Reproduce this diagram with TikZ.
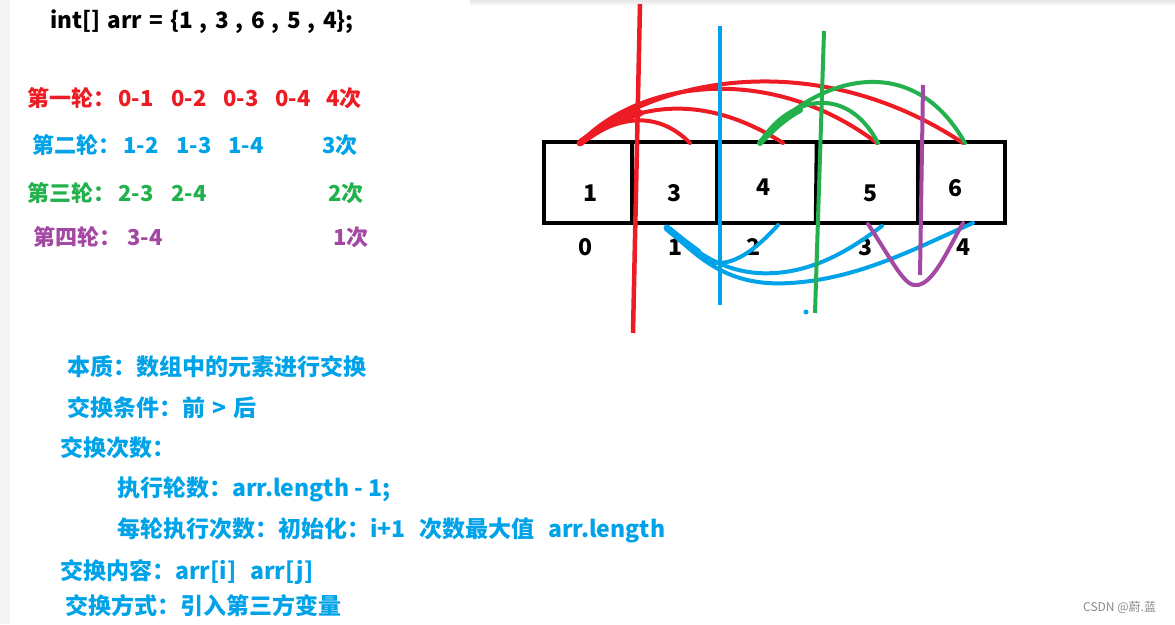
\documentclass[tikz,border=0pt]{standalone}
\usepackage{fontspec}
\setmainfont{Noto Sans CJK SC}
\definecolor{pred}{HTML}{ED1C24}
\definecolor{pblue}{HTML}{00A2E8}
\definecolor{pgreen}{HTML}{22B14C}
\definecolor{ppurple}{HTML}{A349A4}
\definecolor{wmgray}{HTML}{8A8A8A}
\definecolor{stripgray}{HTML}{F5F5F5}
\begin{document}
\begin{tikzpicture}[x=1pt,y=-1pt,
  txt/.style={anchor=base west,inner sep=0pt,font=\fontsize{22}{26}\selectfont\bfseries},
  note/.style={anchor=base west,inner sep=0pt,text=pblue,font=\fontsize{23}{27}\selectfont\bfseries},
  num/.style={anchor=center,inner sep=0pt,font=\fontsize{23}{27}\selectfont\bfseries},
  stroke/.style={line width=4pt,line cap=round,line join=round},
  thick stroke/.style={line width=7pt,line cap=round},
  boxline/.style={line width=4.5pt,black}]
\useasboundingbox (0,0) rectangle (1175,624);
\fill[white] (0,0) rectangle (1175,624);
\fill[stripgray] (0,0) rectangle (10,624);
\shade[top color=black!10,bottom color=white] (470,0) rectangle (1175,6);

% title
\node[txt,font=\fontsize{22.5}{26}\selectfont\bfseries] (title) at (50,28) {int[]\hspace{0.32em}arr\hspace{0.32em}=\hspace{0.32em}\{1\hspace{0.32em},\hspace{0.32em}3\hspace{0.32em},\hspace{0.32em}6\hspace{0.32em},\hspace{0.32em}5\hspace{0.32em},\hspace{0.32em}4\};};

% rounds
\begin{scope}[every node/.append style={text=pred}]
\node[txt] (r1) at (27,106) {第一轮：};
\node[txt] (r1a) at (118,106) {0-1};
\node[txt] (r1b) at (171,106) {0-2};
\node[txt] (r1c) at (223,106) {0-3};
\node[txt] (r1d) at (275,106) {0-4};
\node[txt] (r1n) at (326,106) {4次};
\end{scope}
\begin{scope}[every node/.append style={text=pblue}]
\node[txt] (r2) at (32,153) {第二轮：};
\node[txt] (r2a) at (123,153) {1-2};
\node[txt] (r2b) at (176,153) {1-3};
\node[txt] (r2c) at (228,153) {1-4};
\node[txt] (r2n) at (322,153) {3次};
\end{scope}
\begin{scope}[every node/.append style={text=pgreen}]
\node[txt] (r3) at (27,201) {第三轮：};
\node[txt] (r3a) at (118,201) {2-3};
\node[txt] (r3b) at (171,201) {2-4};
\node[txt] (r3n) at (328,201) {2次};
\end{scope}
\begin{scope}[every node/.append style={text=ppurple}]
\node[txt] (r4) at (33,245) {第四轮：};
\node[txt] (r4a) at (127,245) {3-4};
\node[txt] (r4n) at (333,245) {1次};
\end{scope}

% notes
\node[note] (n1) at (67,375) {本质：数组中的元素进行交换};
\node[note] (n2) at (67,416) {交换条件：前\hspace{0.3em}>\hspace{0.3em}后};
\node[note] (n3) at (60,456) {交换次数：};
\node[note] (n4) at (117,496) {执行轮数：arr.length - 1;};
\node[note] (n5) at (117,537) {每轮执行次数：初始化：i+1\hspace{0.6em}次数最大值\hspace{0.6em}arr.length};
\node[note] (n6) at (60,579) {交换内容：arr[i]\hspace{0.6em}arr[j]};
\node[note] (n7) at (65,614) {交换方式：引入第三方变量};

\node[anchor=base west,inner sep=0pt,text=wmgray,font=\fontsize{12}{14}\selectfont] (wm) at (1083,611) {CSDN @蔚.蓝};

% array box
\draw[boxline] (544,142) rectangle (1005,223);
\draw[boxline] (632,142) -- (632,223);
\draw[boxline] (717,142) -- (717,223);
\draw[boxline] (817,142) -- (816,223);
\draw[boxline] (918,142) -- (918,223);

\node[num] (v0) at (590,193) {1};
\node[num] (v1) at (674,193) {3};
\node[num] (v2) at (763,187) {4};
\node[num] (v3) at (870,193) {5};
\node[num] (v4) at (955,188) {6};

\node[num] (i0) at (585,247) {0};
\node[num] (i1) at (675,247) {1};
\node[num] (i2) at (753,247) {2};
\node[num] (i3) at (865,247) {3};
\node[num] (i4) at (963,247) {4};

% anchor points
\coordinate (t0) at (580,143);
\coordinate (t1) at (690,143);
\coordinate (t2) at (783,143);
\coordinate (t3) at (877,143);
\coordinate (t4) at (963,143);
\coordinate (g2) at (760,143);
\coordinate (g3) at (878,143);
\coordinate (g4) at (965,143);
\coordinate (b1) at (667,228);
\coordinate (b2) at (778,225);
\coordinate (b3) at (882,226);
\coordinate (b4) at (973,223);
\coordinate (p3) at (868,224);
\coordinate (p4) at (963,223);

% red arcs
\draw[stroke,pred] (t0) .. controls (615,118) and (655,108) .. (t1);
\draw[stroke,pred] (t0) .. controls (630,105) and (700,90) .. (t2);
\draw[stroke,pred] (t0) .. controls (640,80) and (770,62) .. (t3);
\draw[stroke,pred] (t0) .. controls (660,75) and (820,48) .. (t4);
\draw[thick stroke,pred] (t0) .. controls (598,129) and (618,119) .. (640,113);

% green arcs
\draw[stroke,pgreen] (g2) .. controls (785,100) and (845,80) .. (g3);
\draw[stroke,pgreen] (g2) .. controls (810,80) and (910,45) .. (g4);
\draw[line width=6pt,line cap=round,pgreen] (g2) .. controls (772,130) and (785,118) .. (800,110);

% blue arcs
\draw[stroke,pblue] (b1) .. controls (695,250) and (705,265) .. (720,263) .. controls (740,262) and (760,245) .. (b2);
\draw[stroke,pblue] (b1) .. controls (700,256) and (730,276) .. (775,273) .. controls (820,270) and (855,246) .. (b3);
\draw[stroke,pblue] (b1) .. controls (700,260) and (730,287) .. (790,283) .. controls (860,279) and (920,246) .. (b4);
\draw[line width=7pt,line cap=round,pblue] (b1) .. controls (678,237) and (688,245) .. (698,252);

% purple
\draw[stroke,ppurple] (p3) .. controls (895,265) and (905,288) .. (918,285) .. controls (935,282) and (950,245) .. (p4);

% vertical lines
\coordinate (vrT) at (640,4);
\coordinate (vrB) at (633,333);
\coordinate (vbT) at (720,26);
\coordinate (vbB) at (720,305);
\coordinate (vgT) at (824,31);
\coordinate (vgB) at (815,313);
\coordinate (vpT) at (923,85);
\coordinate (vpB) at (920,275);
\draw[line width=4.5pt,pred] (vrT) -- (vrB);
\draw[line width=4pt,pblue] (vbT) -- (vbB);
\draw[line width=4pt,pgreen] (vgT) -- (vgB);
\draw[line width=4pt,ppurple] (vpT) -- (vpB);
\fill[pblue] (806,312) circle (2.5);
\end{tikzpicture}
\end{document}
